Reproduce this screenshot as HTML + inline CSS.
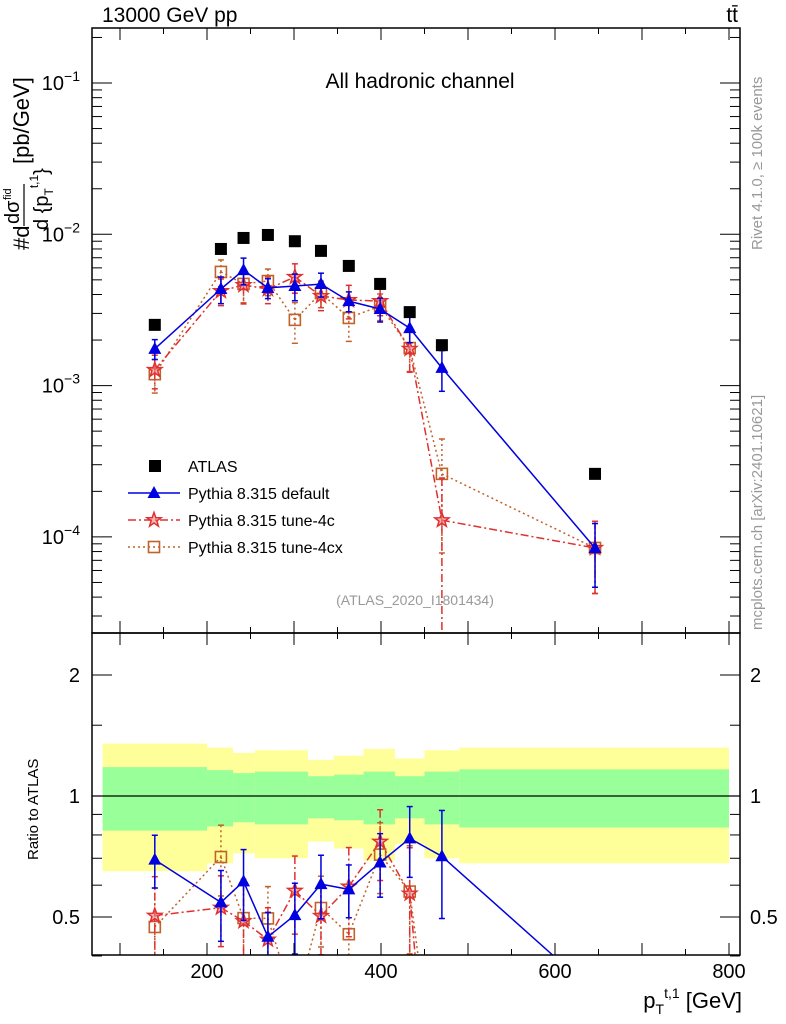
<!DOCTYPE html>
<html><head><meta charset="utf-8"><style>
html,body{margin:0;background:#fff;overflow:hidden;width:786px;height:1024px;}
svg{display:block;font-family:"Liberation Sans",sans-serif;overflow:hidden;}
</style></head><body>
<svg id="c" width="786" height="1024"></svg>
<script>
const xCenters=[140,216,242,270,301,331,363,399,433,470,646];
const binEdges=[80,200,230,255,288,316,346,380,416,450,490,800];
const atlas=[2.52e-3,8.0e-3,9.46e-3,9.9e-3,9.0e-3,7.77e-3,6.18e-3,4.70e-3,3.06e-3,1.85e-3,2.61e-4];
const pyDefault=[1.75e-3,4.35e-3,5.8e-3,4.42e-3,4.55e-3,4.69e-3,3.62e-3,3.21e-3,2.40e-3,1.31e-3,8.45e-5];
const pyDefaultErr=[0.15,0.2,0.2,0.15,0.2,0.18,0.15,0.18,0.2,0.3,0.45];
const py4c=[1.27e-3,4.22e-3,4.62e-3,4.35e-3,5.23e-3,3.91e-3,3.68e-3,3.62e-3,1.75e-3,1.29e-4,8.45e-5];
const py4cErr=[0.25,0.2,0.25,0.2,0.22,0.2,0.25,0.2,0.3,0.9,0.5];
const py4cx=[1.19e-3,5.64e-3,4.70e-3,4.91e-3,2.72e-3,4.09e-3,2.80e-3,3.36e-3,1.77e-3,2.61e-4,8.45e-5];
const py4cxErr=[0.25,0.2,0.25,0.2,0.3,0.2,0.3,0.2,0.3,0.7,0.5];
const bandInner=[0.18,0.16,0.14,0.15,0.15,0.12,0.13,0.15,0.12,0.15,0.165];
const bandOuter=[0.35,0.32,0.28,0.30,0.30,0.23,0.26,0.31,0.24,0.30,0.32];
const xTicks=[200,400,600,800];
const yTicksMain=[-1,-2,-3,-4];
const ratioTicks=[0.5,1,2];

const NS="http://www.w3.org/2000/svg";
const svg=document.getElementById('c');
function el(t,a,p){const e=document.createElementNS(NS,t);for(const k in a)e.setAttribute(k,a[k]);(p||svg).appendChild(e);return e;}
const L=92,R=740,T=28,MB=633,B=955;
const X=v=>33+v*0.87;
const Y=v=>83+(-1-Math.log10(v))*151.3;
const YR=r=>796-Math.log2(r)*121;
const clipM=el('clipPath',{id:'cm'});el('rect',{x:L,y:T,width:R-L,height:MB-T},clipM);
const clipR=el('clipPath',{id:'cr'});el('rect',{x:L,y:MB,width:R-L,height:B-MB},clipR);

const gR=el('g',{'clip-path':'url(#cr)'});

for(let i=0;i<xCenters.length;i++){
 const x0=X(binEdges[i]),x1=X(binEdges[i+1]);
 const y=el('rect',{x:x0,y:YR(1+bandOuter[i]),width:x1-x0,height:YR(1-bandOuter[i])-YR(1+bandOuter[i]),fill:'#ffff99'},gR);
 
}
for(let i=0;i<xCenters.length;i++){
 const x0=X(binEdges[i]),x1=X(binEdges[i+1]);
 const g=el('rect',{x:x0,y:YR(1+bandInner[i]),width:x1-x0,height:YR(1-bandInner[i])-YR(1+bandInner[i]),fill:'#99ff99'},gR);
 
}
el('line',{x1:L,x2:R,y1:YR(1),y2:YR(1),stroke:'#000','stroke-width':1.3},gR);

const gM=el('g',{'clip-path':'url(#cm)'});


function marker(kind,x,y,col,g){
 if(kind==='tri')return el('path',{d:`M${x},${y-7}L${x+6.5},${y+5}L${x-6.5},${y+5}Z`,fill:col},g);
 if(kind==='sq')return el('rect',{x:x-5.5,y:y-5.5,width:11,height:11,fill:'none',stroke:col,'stroke-width':1.6},g);
 if(kind==='star'){let d='';for(let k=0;k<10;k++){const r=k%2?3:7.5,a=-Math.PI/2+k*Math.PI/5;d+=(k?'L':'M')+(x+r*Math.cos(a)).toFixed(1)+','+(y+r*Math.sin(a)).toFixed(1);}return el('path',{d:d+'Z',fill:'#f08080','fill-opacity':0.6,stroke:col,'stroke-width':1.5},g);}
}
function series(name,vals,errs,col,dash,kind){
 for(const [g,f,ratio] of [[gM,(v)=>Y(v),false],[gR,(v,i)=>YR(v/atlas[i]),true]]){
  const bottom=ratio?B:MB;
  const grp=el('g',{},g);
  
  let d='';
  for(let i=0;i<vals.length-1;i++){
   let x0=X(xCenters[i]),y0=f(vals[i],i),x1=X(xCenters[i+1]),y1=f(vals[i+1],i+1);
   if(y0>bottom&&y1>bottom)continue;
   if(y0>bottom){x0=x0+(x1-x0)*(bottom-y0)/(y1-y0);y0=bottom;}
   if(y1>bottom){x1=x0+(x1-x0)*(bottom-y0)/(y1-y0);y1=bottom;}
   d+=`M${x0.toFixed(1)},${y0.toFixed(1)}L${x1.toFixed(1)},${y1.toFixed(1)}`;
  }
  if(d)el('path',{d:d,fill:'none',stroke:col,'stroke-width':1.5,'stroke-dasharray':dash},grp);
  vals.forEach((v,i)=>{
   const x=X(xCenters[i]);
   if(f(v,i)>bottom) return;
   const lo=Math.max(v*(1-errs[i]),1e-8),hi=v*(1+errs[i]);
   const y1=f(hi,i),y2=Math.min(f(lo,i),bottom);
   el('line',{x1:x,x2:x,y1:y1,y2:y2,stroke:col,'stroke-width':1.5,'stroke-dasharray':dash},grp);
   el('line',{x1:x-3,x2:x+3,y1:y1,y2:y1,stroke:col,'stroke-width':1.5},grp);
   if(y2<bottom)el('line',{x1:x-3,x2:x+3,y1:y2,y2:y2,stroke:col,'stroke-width':1.5},grp);
   const m=marker(kind,x,f(v,i),col,grp);
   
  });
 }
}
series('tune-4cx',py4cx,py4cxErr,'#c0622a','2,3','sq');
series('tune-4c',py4c,py4cErr,'#e03030','8,3,2,3','star');
series('default',pyDefault,pyDefaultErr,'#0000e0','','tri');
atlas.forEach((v,i)=>{
 const r=el('rect',{x:X(xCenters[i])-6,y:Y(v)-6,width:12,height:12,fill:'#000'},gM);
 
});

for(const [y0,y1,n] of [[T,MB,'main-frame'],[MB,B,'ratio-frame']]){
 const f=el('rect',{x:L,y:y0,width:R-L,height:y1-y0,fill:'none',stroke:'#000','stroke-width':1.5});
 
}
for(let v=100;v<=800;v+=50){
 const x=X(v);const big=v%100===0;const len=big?12:6;
 for(const [yb,yt] of [[MB,T],[B,MB]]){
  el('line',{x1:x,x2:x,y1:yb,y2:yb-len,stroke:'#000'});
  el('line',{x1:x,x2:x,y1:yt,y2:yt+len,stroke:'#000'});
 }
}
xTicks.forEach(v=>{const t=el('text',{x:X(v),y:978,'font-size':20,'text-anchor':'middle'});t.textContent=v;
 });
for(let d=-5;d<=-1;d++){
 for(let m=1;m<10;m++){
  const v=m*Math.pow(10,d);const y=Y(v);if(y<T||y>MB)continue;
  const len=m===1?20:10;
  el('line',{x1:L,x2:L+len,y1:y,y2:y,stroke:'#000'});
  el('line',{x1:R,x2:R-len,y1:y,y2:y,stroke:'#000'});
 }
}
yTicksMain.forEach(d=>{const t=el('text',{x:80,y:Y(Math.pow(10,d))+7,'font-size':20,'text-anchor':'end'});
 t.innerHTML='10<tspan dy="-9" font-size="14">−'+(-d)+'</tspan>';
 });
[0.4,0.5,0.6,0.7,0.8,0.9,1,1.5,2].forEach(v=>{
 const y=YR(v);const big=[0.5,1,2].includes(v);const len=big?20:10;
 el('line',{x1:L,x2:L+len,y1:y,y2:y,stroke:'#000'});
 el('line',{x1:R,x2:R-len,y1:y,y2:y,stroke:'#000'});
});
ratioTicks.forEach(v=>{
 for(const [x,a] of [[80,'end'],[750,'start']]){
  const t=el('text',{x:x,y:YR(v)+7,'font-size':20,'text-anchor':a});t.textContent=v;
  
 }
});
function txt(s,a,name,html){const t=el('text',a);if(html)t.innerHTML=s;else t.textContent=s;return t;}
txt('13000 GeV pp',{x:102,y:22,'font-size':21},'energy-label');
txt('tt̄',{x:738,y:22,'font-size':21,'text-anchor':'end'},'process-label');
txt('All hadronic channel',{x:420,y:88,'font-size':21,'text-anchor':'middle'},'plot-title');
txt('(ATLAS_2020_I1801434)',{x:415,y:605,'font-size':14,fill:'#999','text-anchor':'middle'},'analysis-id');
txt('Rivet 4.1.0, ≥ 100k events',{transform:'translate(762,250) rotate(-90)','font-size':15,fill:'#999'},'rivet-label');
txt('mcplots.cern.ch [arXiv:2401.10621]',{transform:'translate(762,630) rotate(-90)','font-size':15,fill:'#999'},'mcplots-label');
txt('Ratio to ATLAS',{transform:'translate(38,860) rotate(-90)','font-size':15},'ratio-y-title');
txt('p<tspan dy="6" font-size="14">T</tspan><tspan dy="-16" font-size="14">t,1</tspan><tspan dy="10"> [GeV]</tspan>',{x:742,y:1008,'font-size':22,'text-anchor':'end'},'x-axis-title',true);
const yt=el('g',{transform:'translate(29,250) rotate(-90)'});

el('text',{x:0,y:0,'font-size':22},yt).textContent='#d';
el('text',{x:26,y:-10,'font-size':20},yt).textContent='dσ';
el('text',{x:50,y:-18,'font-size':11},yt).textContent='fid';
el('line',{x1:24,x2:66,y1:-5,y2:-5,stroke:'#000','stroke-width':1.2},yt);
el('text',{x:20,y:19,'font-size':20},yt).innerHTML='d {p<tspan dy="5" font-size="12">T</tspan><tspan dy="-15" font-size="12">t,1</tspan><tspan dy="10">}</tspan>';
el('text',{x:86,y:0,'font-size':22},yt).textContent='[pb/GeV]';
const lg=el('g',{});
const items=[['ATLAS','#000','',null],['Pythia 8.315 default','#0000e0','','tri'],['Pythia 8.315 tune-4c','#e03030','8,3,2,3','star'],['Pythia 8.315 tune-4cx','#c0622a','2,3','sq']];
items.forEach((it,i)=>{
 const y=466+i*27;const g=el('g',{},lg);
 
 if(i===0)el('rect',{x:149,y:y-6,width:12,height:12,fill:'#000'},g);
 else{el('line',{x1:128,x2:180,y1:y,y2:y,stroke:it[1],'stroke-width':1.5,'stroke-dasharray':it[2]},g);marker(it[3],154,y,it[1],g);}
 el('text',{x:188,y:y+6,'font-size':16},g).textContent=it[0];
});
</script>
</body></html>
